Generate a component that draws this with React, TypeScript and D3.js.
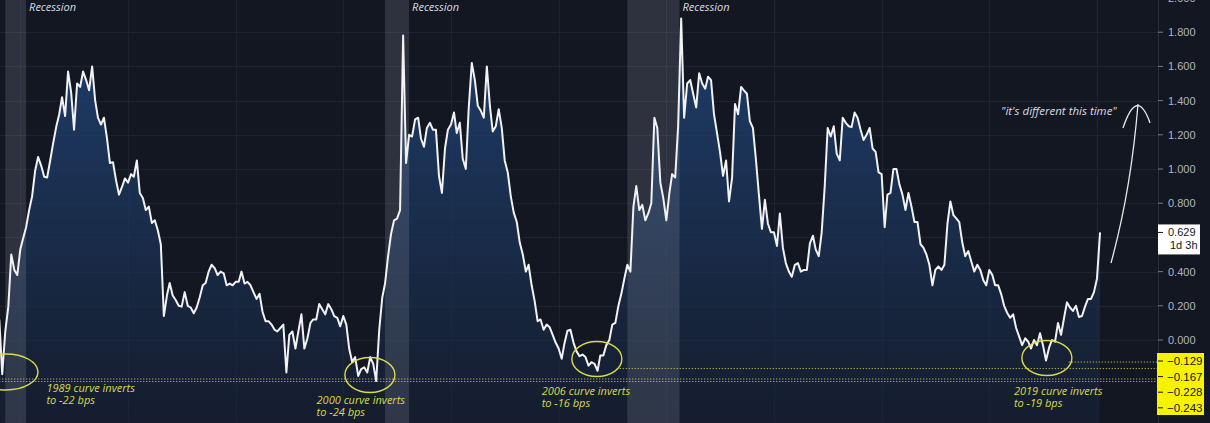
import React from "react";
import * as d3 from "d3";

// ---- DATA ----
const START_MONTH = "1990-06-01";
// monthly spread values (%)
const spread = [
  0.12, -0.2, 0.05, 0.195, 0.5, 0.41, 0.38, 0.53, 0.6, 0.66,
  0.76, 0.84, 0.99, 1.07, 1.02, 0.955, 0.95, 1.05, 1.15, 1.245,
  1.32, 1.42, 1.31, 1.57, 1.45, 1.23, 1.5, 1.48, 1.57, 1.52,
  1.46, 1.6, 1.4, 1.3, 1.26, 1.3, 1.18, 1.035, 1.04, 0.935,
  0.85, 0.895, 0.945, 0.92, 0.97, 0.955, 1.05, 0.86, 0.83, 0.76,
  0.78, 0.684, 0.7, 0.64, 0.56, 0.14, 0.26, 0.333, 0.26, 0.234,
  0.2, 0.195, 0.28, 0.2, 0.19, 0.156, 0.19, 0.25, 0.32, 0.333,
  0.4, 0.44, 0.42, 0.38, 0.4, 0.39, 0.32, 0.33, 0.32, 0.34,
  0.34, 0.4, 0.33, 0.34, 0.32, 0.28, 0.24, 0.27, 0.165, 0.11,
  0.11, 0.09, 0.06, 0.05, 0.07, 0.09, -0.19, 0.03, 0.05, -0.05,
  0.05, 0.15, -0.05, 0.01, 0.1, 0.12, 0.12, 0.21, 0.18, 0.15,
  0.21, 0.18, 0.14, 0.13, 0.08, 0.14, 0.09, -0.05, -0.13, -0.1,
  -0.21, -0.17, -0.16, -0.19, -0.1, -0.14, -0.24, 0.06, 0.25, 0.33,
  0.49, 0.62, 0.7, 0.71, 0.76, 1.78, 1.035, 1.2, 1.19, 1.29,
  1.3, 1.18, 1.13, 1.24, 1.27, 1.23, 1.23, 0.96, 0.86, 1.12,
  1.23, 1.26, 1.33, 1.21, 1.27, 1.06, 1.0, 1.36, 1.62, 1.52,
  1.37, 1.34, 1.3, 1.6, 1.37, 1.22, 1.25, 1.35, 1.24, 1.05,
  0.98, 0.84, 0.745, 0.69, 0.57, 0.5, 0.4, 0.44, 0.32, 0.23,
  0.11, 0.12, 0.06, 0.09, 0.075, 0.03, -0.015, -0.05, -0.11, -0.02,
  0.055, 0.06, -0.015, -0.065, -0.095, -0.085, -0.1, -0.15, -0.13, -0.14,
  -0.18, -0.09, -0.09, -0.03, 0.0, 0.09, 0.1, 0.2, 0.27, 0.36,
  0.44, 0.4, 0.78, 0.9, 0.76, 0.79, 0.7, 0.74, 0.8, 1.3,
  1.24, 0.92, 0.83, 0.7, 0.86, 0.97, 0.95, 1.25, 1.88, 1.3,
  1.5, 1.52, 1.44, 1.36, 1.56, 1.5, 1.47, 1.54, 1.52, 1.32,
  1.21, 1.1, 0.96, 1.05, 0.81, 0.95, 1.38, 1.32, 1.48, 1.46,
  1.44, 1.28, 1.24, 1.06, 0.85, 0.65, 0.82, 0.68, 0.63, 0.63,
  0.55, 0.74, 0.54, 0.45, 0.4, 0.37, 0.44, 0.45, 0.4, 0.41,
  0.41, 0.565, 0.61, 0.53, 0.49, 0.63, 0.9, 1.24, 1.19, 1.25,
  1.09, 1.05, 1.3, 1.27, 1.25, 1.245, 1.33, 1.3, 1.23, 1.17,
  1.2, 1.24, 1.12, 1.1, 0.98, 0.97, 0.66, 0.85, 0.86, 1.0,
  1.0, 0.91, 0.85, 0.76, 0.86, 0.78, 0.69, 0.69, 0.56, 0.54,
  0.5, 0.44, 0.32, 0.41, 0.43, 0.41, 0.44, 0.68, 0.81, 0.73,
  0.71, 0.69, 0.57, 0.49, 0.52, 0.46, 0.4, 0.44, 0.41, 0.35,
  0.32, 0.41, 0.38, 0.32, 0.32, 0.27, 0.2, 0.16, 0.13, 0.15,
  0.07, 0.02, -0.03, 0.01, -0.01, -0.05, 0.0, -0.03, 0.04, -0.03,
  -0.12, -0.045, 0.0, -0.01, 0.1, 0.03, 0.13, 0.22, 0.19, 0.17,
  0.2, 0.135, 0.14, 0.195, 0.24, 0.24, 0.28, 0.36, 0.629,
];

const recessions: [string, string][] = [
  ["1990-08-01", "1991-03-01"],
  ["2001-03-01", "2001-11-01"],
  ["2007-12-01", "2009-05-15"],
];

const yTicks = [2.0, 1.8, 1.6, 1.4, 1.2, 1.0, 0.8, 0.4, 0.2, 0.0];
const gridYears = [1991, 1994, 1997, 2000, 2003, 2006, 2009, 2012, 2015, 2018, 2021];

const lastValue = 0.629;
const lastLabel = "1d 3h";

// inversion lows marked with dotted lines
const inversionLevels = [
  { value: -0.129, from: "2020-03-20" },
  { value: -0.167, from: "2007-08-15" },
  { value: -0.228, from: "1990-06-01" },
  { value: -0.243, from: "1990-06-01" },
];

const inversionNotes = [
  { lines: ["1989 curve inverts", "to -22 bps"], circleDate: "1990-08-08", circleValue: -0.187, textDate: "1991-09-24", textValue: -0.305 },
  { lines: ["2000 curve inverts", "to -24 bps"], circleDate: "2000-09-28", circleValue: -0.205, textDate: "1999-04-04", textValue: -0.375 },
  { lines: ["2006 curve inverts", "to -16 bps"], circleDate: "2007-01-25", circleValue: -0.111, textDate: "2005-07-12", textValue: -0.322 },
  { lines: ["2019 curve inverts", "to -19 bps"], circleDate: "2019-08-10", circleValue: -0.105, textDate: "2018-09-08", textValue: -0.322 },
];

const quote = "\"it's different this time\"";

// ---- CHART ----
const W = 1210;
const H = 423;
const AXIS_X = 1158;
const BG = "#131722";
const YELLOW = "#d9d94c";

export default function App() {
  const parse = (s: string) => new Date(s + "T00:00:00");
  const start = parse(START_MONTH);
  const data = spread.map((v, i) => ({ date: d3.timeMonth.offset(start, i), value: v }));

  const x = d3
    .scaleTime()
    .domain([new Date(1994, 0, 1), new Date(2021, 0, 1)])
    .range([128, 1097]);
  const y = d3.scaleLinear().domain([0, 1]).range([340, 169]);

  const line = d3
    .line<{ date: Date; value: number }>()
    .x((d) => x(d.date))
    .y((d) => y(d.value));
  const area = d3
    .area<{ date: Date; value: number }>()
    .x((d) => x(d.date))
    .y0(H)
    .y1((d) => y(d.value));

  const neg = [-0.129, -0.167, -0.228, -0.243];

  return (
    <svg
      width={W}
      height={H}
      style={{ position: "fixed", left: 0, top: 0, display: "block" }}
      xmlns="http://www.w3.org/2000/svg"
    >
      <defs>
        <linearGradient id="fillGrad" gradientUnits="userSpaceOnUse" x1="0" y1="20" x2="0" y2={H}>
          <stop offset="0%" stopColor="#21467a" stopOpacity={0.85} />
          <stop offset="55%" stopColor="#1b3459" stopOpacity={0.7} />
          <stop offset="100%" stopColor="#17233a" stopOpacity={0.5} />
        </linearGradient>
        <clipPath id="plotClip">
          <rect x={0} y={0} width={AXIS_X} height={H} />
        </clipPath>
      </defs>
      <rect x={0} y={0} width={W} height={H} fill={BG} />

      {/* grid */}
      <g stroke="#1d2230" strokeWidth={1}>
        {yTicks.map((t) => (
          <line key={"h" + t} x1={0} x2={AXIS_X} y1={Math.round(y(t)) + 0.5} y2={Math.round(y(t)) + 0.5} />
        ))}
        <line x1={0} x2={AXIS_X} y1={Math.round(y(0.6)) + 0.5} y2={Math.round(y(0.6)) + 0.5} />
        {gridYears.map((yr) => {
          const gx = Math.round(x(new Date(yr, 0, 1))) + 0.5;
          return <line key={"v" + yr} x1={gx} x2={gx} y1={0} y2={H} />;
        })}
      </g>

      <g clipPath="url(#plotClip)">
        <path d={area(data) || ""} fill="url(#fillGrad)" />

        {/* recession bands */}
        {recessions.map(([a, b], i) => {
          const x0 = x(parse(a));
          const x1 = x(parse(b));
          return <rect key={"r" + i} x={x0} y={0} width={x1 - x0} height={H} fill="#9aa0b0" fillOpacity={0.2} />;
        })}

        {/* dotted inversion levels */}
        {inversionLevels.map((l, i) => (
          <line
            key={"l" + i}
            x1={x(parse(l.from))}
            x2={AXIS_X}
            y1={y(l.value)}
            y2={y(l.value)}
            stroke={YELLOW}
            strokeWidth={1}
            strokeDasharray="1 2"
          />
        ))}

        <path d={line(data) || ""} fill="none" stroke="#f2f2f2" strokeWidth={2} strokeLinejoin="round" />

        {/* circles + notes */}
        {inversionNotes.map((n, i) => {
          const cx = x(parse(n.circleDate));
          const cy = y(n.circleValue);
          const tx = x(parse(n.textDate));
          const ty = y(n.textValue);
          return (
            <g key={"n" + i}>
              <ellipse cx={cx} cy={cy} rx={i === 0 ? 32 : 25} ry={i === 0 ? 18 : 17.5} fill="none" stroke={YELLOW} strokeWidth={1.4} />
              {n.lines.map((t, j) => (
                <text
                  key={j}
                  x={tx}
                  y={ty + j * 12}
                  fill={YELLOW}
                  fontFamily="'Open Sans', sans-serif"
                  fontStyle="italic"
                  fontSize={11}
                >
                  {t}
                </text>
              ))}
            </g>
          );
        })}

        {/* recession labels */}
        {recessions.map(([a, b], i) => (
          <text
            key={"rt" + i}
            x={x(parse(b)) + 3}
            y={11}
            fill="#d8dbe2"
            fontFamily="'Open Sans', sans-serif"
            fontStyle="italic"
            fontSize={11}
          >
            Recession
          </text>
        ))}

        {/* "it's different this time" */}
        <text
          x={1001}
          y={115}
          fill="#d8dbe2"
          fontFamily="'Open Sans', sans-serif"
          fontStyle="italic"
          fontSize={11.5}
        >
          {quote}
        </text>
        <path d="M1111,263 Q1131,190 1138,104" fill="none" stroke="#e8e8e8" strokeWidth={1.3} />
        <path d="M1123,128 Q1137,86 1150,123" fill="none" stroke="#e8e8e8" strokeWidth={1.3} />
      </g>

      {/* right axis */}
      <line x1={AXIS_X + 0.5} x2={AXIS_X + 0.5} y1={0} y2={H} stroke="#2a2e39" strokeWidth={1} />
      <g fontFamily="'Liberation Sans', Arial, sans-serif" fontSize={11} fill="#b2b5be">
        {yTicks.map((t) => (
          <g key={"t" + t}>
            <line x1={AXIS_X} x2={AXIS_X + 5} y1={y(t)} y2={y(t)} stroke="#787b86" />
            <text x={1168} y={y(t) + 4}>
              {d3.format(".3f")(t)}
            </text>
          </g>
        ))}
      </g>

      {/* last value box */}
      <rect x={AXIS_X} y={y(lastValue) - 8} width={42} height={30} fill="#ffffff" />
      <line x1={AXIS_X} x2={AXIS_X + 5} y1={y(lastValue)} y2={y(lastValue)} stroke="#131722" />
      <text x={1168} y={y(lastValue) + 4} fontFamily="'Liberation Sans', Arial, sans-serif" fontSize={11} fill="#131722">
        {d3.format(".3f")(lastValue)}
      </text>
      <text x={1170} y={y(lastValue) + 17} fontFamily="'Liberation Sans', Arial, sans-serif" fontSize={11} fill="#131722">
        {lastLabel}
      </text>

      {/* yellow negative labels */}
      <rect x={AXIS_X - 1} y={353} width={47} height={62} fill="#f7f300" />
      {neg.map((v, i) => {
        const cy = 361 + i * 15.6;
        return (
          <g key={"ng" + i}>
            <line x1={AXIS_X} x2={AXIS_X + 5} y1={cy} y2={cy} stroke="#131722" />
            <text x={1167} y={cy + 4} fontFamily="'Liberation Sans', Arial, sans-serif" fontSize={11.5} fill="#131722">
              {"\u2212" + d3.format(".3f")(-v)}
            </text>
          </g>
        );
      })}
    </svg>
  );
}
